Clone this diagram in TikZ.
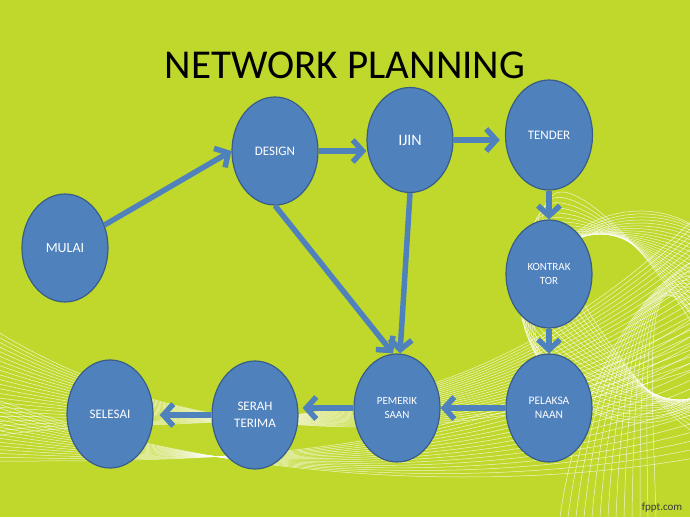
\documentclass[tikz,border=0pt]{standalone}
\usepackage{fontspec}
\setmainfont{Carlito}
\usepackage{xcolor}
\usetikzlibrary{shapes.geometric,arrows.meta}
\definecolor{lime}{RGB}{192,216,44}
\definecolor{blob}{RGB}{79,129,189}
\definecolor{blobline}{RGB}{56,93,138}
\begin{document}
\begin{tikzpicture}[x=1pt,y=1pt,
        proses/.style={ellipse,draw=blobline,line width=1.2pt,fill=blob,text=white,
            minimum width=86pt,minimum height=108pt,inner sep=0pt,align=center},
        panah/.style={blob,line width=5.5pt,-{Straight Barb[length=10pt,width=22pt]}},
        swirl/.style={white,line width=0.5pt,opacity=0.75}]
        \fill[lime](0,0) rectangle (690,517);
        \useasboundingbox (0,0) rectangle (690,517);
        \begin{scope}
        \clip (0,0) rectangle (690,517);
        \foreach \i in {0,...,22}
            \draw[swirl](-10,190-5*\i) .. controls (180,70+2*\i) and (430,60-\i) .. (700,150+7*\i);
        \foreach \i in {0,...,16}
            \draw[swirl](-10,120-4*\i) .. controls (200,40+\i) and (480,20+2*\i) .. (700,60+9*\i);
        \foreach \i in {0,...,22}
            \draw[swirl,rotate around={35+3*\i:(640,200)}] (640,200) ellipse ({40+3*\i} and {150-2*\i});
        \foreach \i in {0,...,12}
            \draw[swirl](560+8*\i,0) .. controls (580+6*\i,140) and (640,230+5*\i) .. (700,260-6*\i);
        \end{scope}
        \node[font=\fontsize{41}{41}\selectfont] (judul) at (345,452) {NETWORK PLANNING};
        \node[proses,font=\fontsize{14}{16}\selectfont] (mulai) at (65,269) {MULAI};
        \node[proses,font=\fontsize{13}{15}\selectfont] (design) at (275,366) {DESIGN};
        \node[proses,font=\fontsize{16}{18}\selectfont,minimum height=105pt] (ijin) at (410,377) {IJIN};
        \node[proses,font=\fontsize{13}{15}\selectfont,minimum width=87pt,minimum height=110pt] (tender) at (549,382) {TENDER};
        \node[proses,font=\fontsize{11}{14}\selectfont] (kontraktor) at (549,243) {KONTRAK\\TOR};
        \node[proses,font=\fontsize{11.5}{14.5}\selectfont] (pelaksanaan) at (549,109) {PELAKSA\\NAAN};
        \node[proses,font=\fontsize{11}{14}\selectfont] (pemeriksaan) at (397,109) {PEMERIK\\SAAN};
        \node[proses,font=\fontsize{13}{16.5}\selectfont] (serah) at (255,102) {SERAH\\TERIMA};
        \node[proses,font=\fontsize{13}{15}\selectfont] (selesai) at (110,103) {SELESAI};
        \node[text={rgb,255:red,60;green,60;blue,60},font=\fontsize{11}{11}\selectfont] (fppt) at (662,9) {fppt.com};
        \draw[panah](mulai)--(design.west);
        \draw[panah](design.east)--(ijin.west |- design.east);
        \draw[panah](ijin.east)--([xshift=-5pt]tender.west |- ijin.east);
        \draw[panah](tender.south)--(kontraktor.north);
        \draw[panah](kontraktor.south)--(pelaksanaan.north);
        \draw[panah](pelaksanaan.west)--(pemeriksaan.east);
        \draw[panah](pemeriksaan.west)--([xshift=4pt]serah.east |- pemeriksaan.west);
        \draw[panah](serah.west)--([xshift=6pt]selesai.east |- serah.west);
        \draw[panah](design.south)--([xshift=-4pt]pemeriksaan.north);
        \draw[panah](ijin.south)--([xshift=3pt]pemeriksaan.north);
    \end{tikzpicture}
\end{document}
